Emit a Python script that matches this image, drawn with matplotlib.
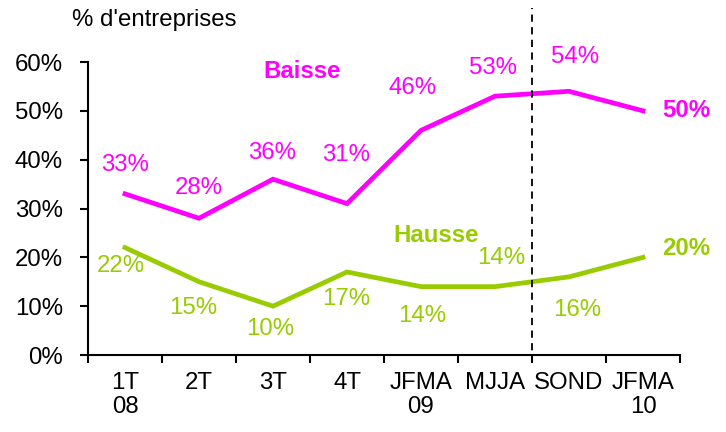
import matplotlib
matplotlib.use("Agg")
import matplotlib.pyplot as plt

plt.rcParams['font.family'] = ['Liberation Sans', 'DejaVu Sans']

# données
periodes = ['1T\n08', '2T', '3T', '4T', 'JFMA\n09', 'MJJA', 'SOND', 'JFMA\n10']
baisse = [33, 28, 36, 31, 46, 53, 54, 50]
hausse = [22, 15, 10, 17, 14, 14, 16, 20]

# position des étiquettes (x, y en unités de données)
pos_baisse = [(0.0, 38.9), (0.99, 34.2), (1.99, 41.4), (2.99, 41.0),
              (3.89, 54.7), (4.97, 58.8), (6.08, 61.0), (7.58, 50.0)]
pos_hausse = [(-0.05, 18.2), (0.92, 9.6), (1.96, 5.3), (2.99, 11.5),
              (4.01, 8.0), (5.08, 19.9), (6.11, 9.2), (7.58, 21.9)]

col_b = '#FF00FF'
col_h = '#99CC00'
fs = 17.3

fig = plt.figure(figsize=(7.26, 4.32), dpi=100)
ax = fig.add_axes([88 / 726, 77 / 432, 592 / 726, 293 / 432])

x = list(range(len(periodes)))
ax.plot(x, baisse, color=col_b, linewidth=3.4, solid_joinstyle='miter')
ax.plot(x, hausse, color=col_h, linewidth=3.4, solid_joinstyle='miter')

for i, v in enumerate(baisse):
    last = i == len(baisse) - 1
    ax.text(pos_baisse[i][0], pos_baisse[i][1], f'{v}%', color=col_b, fontsize=fs,
            ha='center', va='center', fontweight='bold' if last else 'normal')
for i, v in enumerate(hausse):
    last = i == len(hausse) - 1
    ax.text(pos_hausse[i][0], pos_hausse[i][1], f'{v}%', color=col_h, fontsize=fs,
            ha='center', va='center', fontweight='bold' if last else 'normal')

ax.text(2.39, 58.0, 'Baisse', color=col_b, fontsize=fs, fontweight='bold',
        ha='center', va='center')
ax.text(4.20, 24.4, 'Hausse', color=col_h, fontsize=fs, fontweight='bold',
        ha='center', va='center')

# séparation 2009 / prévisions
ax.axvline(5.5, ymin=-0.027, ymax=1.184, color='black', linestyle=(0, (4, 3)),
           linewidth=1.3, clip_on=False)

ax.set_xlim(-0.5, len(periodes) - 0.5)
ax.set_ylim(0, 60)
ax.set_yticks(range(0, 61, 10))
ax.set_yticklabels([f'{t}%' for t in range(0, 61, 10)])
ax.set_xticks([i - 0.5 for i in range(len(periodes) + 1)])
ax.set_xticklabels([])
ax.set_xticks(x, minor=True)
ax.set_xticklabels(periodes, minor=True)

ax.tick_params(axis='y', direction='out', length=6, width=1.5, pad=12, labelsize=fs)
ax.tick_params(axis='x', which='major', direction='out', length=6, width=1.5)
ax.tick_params(axis='x', which='minor', length=0, pad=12, labelsize=fs)
for lab in ax.get_xticklabels(minor=True):
    lab.set_linespacing(1.12)

for s in ['top', 'right']:
    ax.spines[s].set_visible(False)
for s in ['left', 'bottom']:
    ax.spines[s].set_linewidth(1.5)

fig.text(72 / 726, 1 - 20 / 432, "% d'entreprises", fontsize=fs, ha='left', va='center')

fig.savefig('out.png', dpi=100)
